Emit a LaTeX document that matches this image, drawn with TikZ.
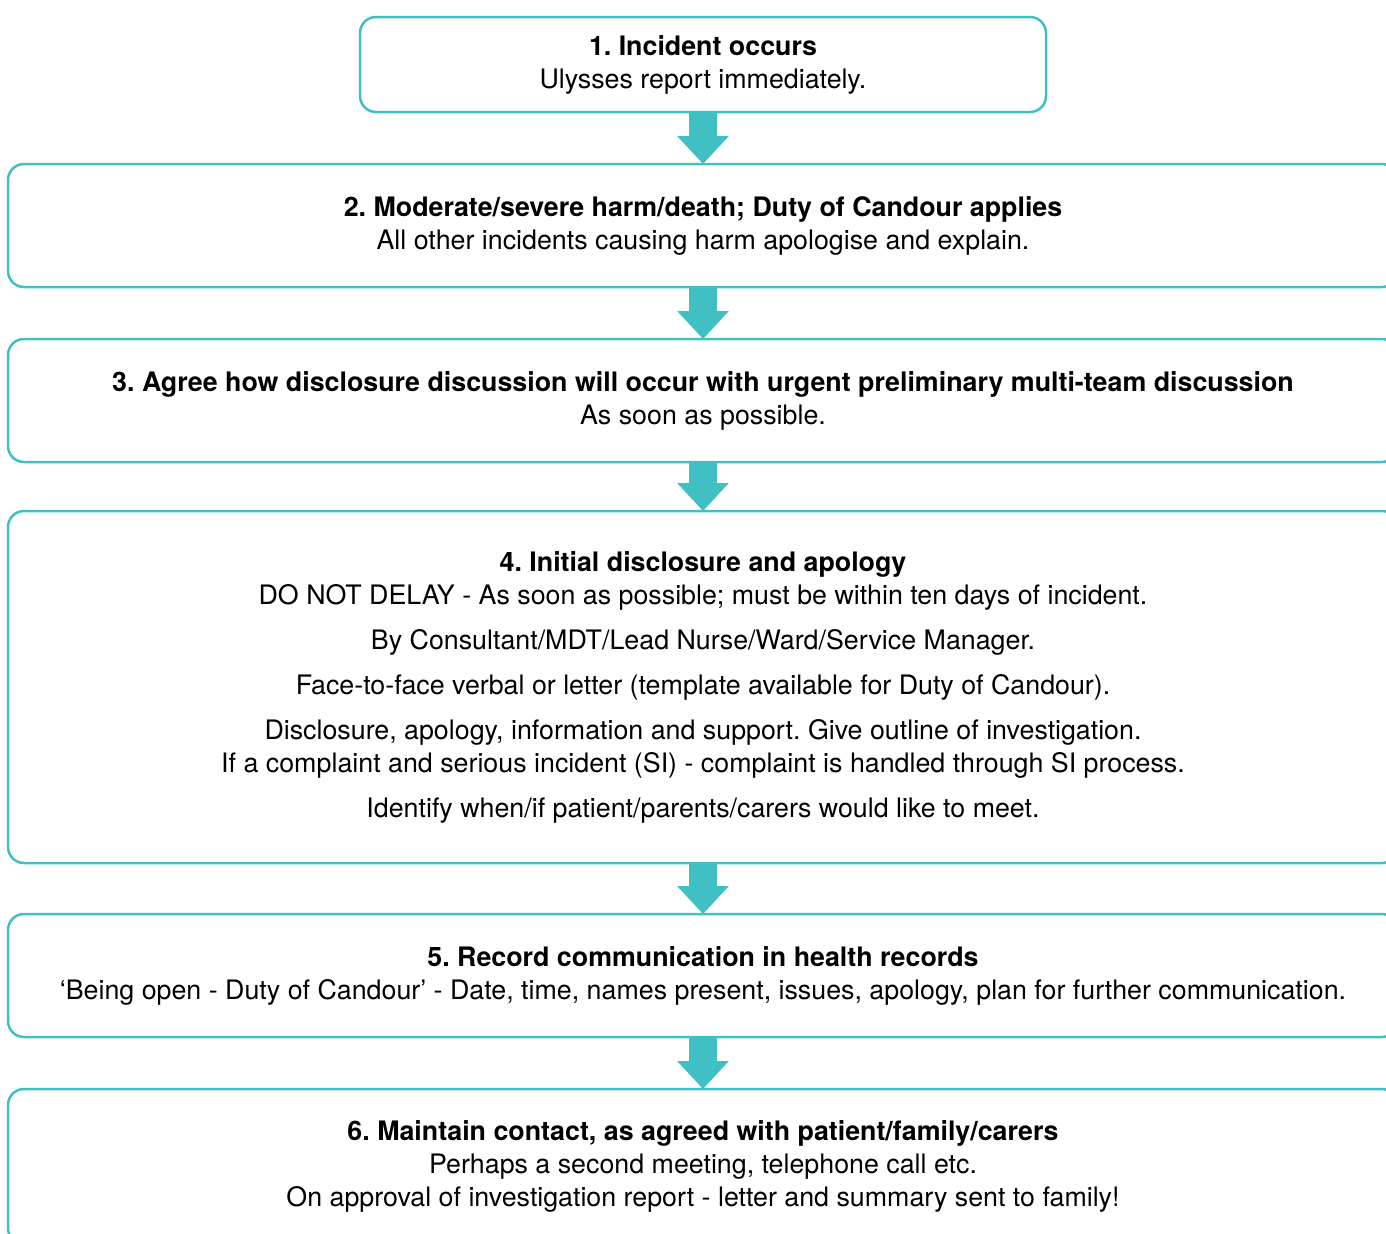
\documentclass[tikz,border=0pt]{standalone}
\usepackage{fontspec}
\setmainfont{TeX Gyre Heros}
\usetikzlibrary{positioning, arrows.meta}
\definecolor{Teal}{HTML}{40C0C2}

\begin{document}
\frenchspacing
\begin{tikzpicture}[
    stepbox/.style={draw=Teal, line width=1.25pt, rounded corners=8pt, align=center,
        font=\fontsize{13.4}{16.5}\selectfont, inner sep=0pt, outer sep=0pt},
    narrow/.style={stepbox, minimum width=343pt},
    wide/.style={stepbox, minimum width=695pt},
    flow/.style={draw=Teal, line width=14pt, -{Triangle[length=14pt, width=25pt]}}
]
\useasboundingbox (0,0) rectangle (693pt,-616.5pt);

% Step boxes
\node[narrow, minimum height=47.5pt] (s1) at (351.5pt,-32.25pt)
    {\textbf{1. Incident occurs}\\Ulysses report immediately.};
\node[wide, minimum height=61.5pt, below=26pt of s1] (s2)
    {\textbf{2. Moderate/severe harm/death; Duty of Candour applies}\\
     All other incidents causing harm apologise and explain.};
\node[wide, minimum height=61.5pt, below=26pt of s2] (s3)
    {\textbf{3. Agree how disclosure discussion will occur with urgent preliminary multi-team discussion}\\
     As soon as possible.};
\node[wide, minimum height=176pt, below=24.5pt of s3] (s4)
    {\textbf{4. Initial disclosure and apology}\\
     DO NOT DELAY - As soon as possible; must be within ten days of incident.\\[6pt]
     By Consultant/MDT/Lead Nurse/Ward/Service Manager.\\[6pt]
     Face-to-face verbal or letter (template available for Duty of Candour).\\[6pt]
     Disclosure, apology, information and support. Give outline of investigation.\\
     If a complaint and serious incident (SI) - complaint is handled through SI process.\\[6pt]
     Identify when/if patient/parents/carers would like to meet.};
\node[wide, minimum height=61.5pt, below=25.5pt of s4] (s5)
    {\textbf{5. Record communication in health records}\\
     `Being open - Duty of Candour' - Date, time, names present, issues, apology, plan for further communication.};
\node[wide, minimum height=77.5pt, below=26pt of s5] (s6)
    {\textbf{6. Maintain contact, as agreed with patient/family/carers}\\
     Perhaps a second meeting, telephone call etc.\\
     On approval of investigation report - letter and summary sent to family!};

% Arrows between steps
\foreach \a/\b in {s1/s2, s2/s3, s3/s4, s4/s5, s5/s6}
    \draw[flow] (\a.south) -- (\b.north);

\end{tikzpicture}
\end{document}
